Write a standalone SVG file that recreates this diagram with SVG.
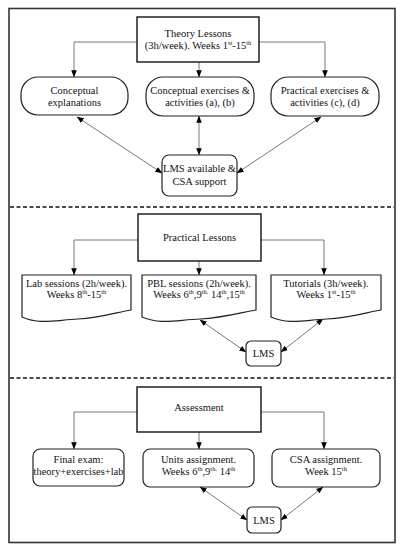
<svg xmlns="http://www.w3.org/2000/svg" width="402" height="550" viewBox="0 0 402 550">
<defs>
<marker id="ah" viewBox="0 0 10 10" refX="9.5" refY="5" markerWidth="7" markerHeight="7" markerUnits="userSpaceOnUse" orient="auto-start-reverse">
<path d="M0,1 L10,5 L0,9 Z" fill="#000"/>
</marker>
<style>
text{font-family:'Liberation Serif','Times New Roman','DejaVu Serif',serif;font-size:10.5px;fill:#111;text-anchor:middle}
.sup{font-size:6.5px}
.box{fill:#fff;stroke:#111;stroke-width:1.4}
.node{fill:#fff;stroke:#222;stroke-width:1.2}
.conn{fill:none;stroke:#555;stroke-width:0.8;marker-end:url(#ah)}
.bi{marker-start:url(#ah)}
.dash{stroke:#111;stroke-width:1.3;stroke-dasharray:4,2.5}
</style>
</defs>
<rect x="0" y="0" width="402" height="550" fill="#fff"/>
<rect x="9" y="8.5" width="386" height="534" fill="none" stroke="#333" stroke-width="1.6"/>
<line class="dash" x1="10" y1="207" x2="394" y2="207"/>
<line class="dash" x1="10" y1="378" x2="394" y2="378"/>

<g id="connectors">
<path class="conn" d="M137,42 H74 V77"/>
<path class="conn" d="M199,62 V77"/>
<path class="conn" d="M259,42 H325 V77"/>
<path class="conn bi" d="M77,117 L162,173"/>
<path class="conn bi" d="M199,116 V155"/>
<path class="conn bi" d="M321,117 L237,173"/>
<path class="conn" d="M138,240 H74 V275"/>
<path class="conn" d="M199,261 V275"/>
<path class="conn" d="M261,240 H324 V275"/>
<path class="conn bi" d="M200,320 L246,352"/>
<path class="conn bi" d="M323,319 L281,352"/>
<path class="conn" d="M137,412 H74 V449"/>
<path class="conn" d="M199,432 V449"/>
<path class="conn" d="M261,412 H324 V449"/>
<path class="conn bi" d="M200,487 L247,520"/>
<path class="conn bi" d="M323,487 L281,520"/>
</g>

<g font-family="'Liberation Serif', 'Times New Roman', serif">
<g id="theory">
<rect class="box" x="137" y="17" width="122" height="45"/>
<text x="198" y="37">Theory Lessons</text>
<text x="198" y="49">(3h/week). Weeks 1<tspan class="sup" dy="-4">st</tspan><tspan dy="4">-15</tspan><tspan class="sup" dy="-4">th</tspan></text>
</g>
<g id="conceptual-explanations">
<rect class="node" x="21" y="77" width="107" height="38" rx="17"/>
<text x="74.5" y="94">Conceptual</text>
<text x="74.5" y="106">explanations</text>
</g>
<g id="conceptual-exercises">
<rect class="node" x="146" y="77" width="108" height="39" rx="17"/>
<text x="200" y="94">Conceptual exercises &amp;</text>
<text x="200" y="106">activities (a), (b)</text>
</g>
<g id="practical-exercises">
<rect class="node" x="271" y="77" width="108" height="39" rx="17"/>
<text x="325" y="94">Practical exercises &amp;</text>
<text x="325" y="106">activities (c), (d)</text>
</g>
<g id="lms-csa">
<rect class="node" x="162" y="155" width="75" height="41" rx="7"/>
<text x="199.5" y="172">LMS available &amp;</text>
<text x="199.5" y="185">CSA support</text>
</g>

<g id="practical">
<rect class="box" x="138" y="214" width="123" height="47"/>
<text x="199.5" y="241">Practical Lessons</text>
</g>
<g id="lab">
<path class="node" d="M22,275 H131 V310 C118,312 100,318 78,319 S40,325 22,317 Z"/>
<text x="76.5" y="287">Lab sessions (2h/week).</text>
<text x="76.5" y="298">Weeks 8<tspan class="sup" dy="-4">th</tspan><tspan dy="4">-15</tspan><tspan class="sup" dy="-4">th</tspan></text>
</g>
<g id="pbl">
<path class="node" d="M142,275 H256 V310 C243,312 224,318 200,319 S161,325 142,317 Z"/>
<text x="199" y="287">PBL sessions (2h/week).</text>
<text x="199" y="298">Weeks 6<tspan class="sup" dy="-4">th</tspan><tspan dy="4">,9</tspan><tspan class="sup" dy="-4">th.</tspan><tspan dy="4"> 14</tspan><tspan class="sup" dy="-4">th</tspan><tspan dy="4">,15</tspan><tspan class="sup" dy="-4">th</tspan></text>
</g>
<g id="tutorials">
<path class="node" d="M271,275 H381 V310 C368,312 350,318 327,319 S289,325 271,317 Z"/>
<text x="326" y="287">Tutorials (3h/week).</text>
<text x="326" y="298">Weeks 1<tspan class="sup" dy="-4">st</tspan><tspan dy="4">-15</tspan><tspan class="sup" dy="-4">th</tspan></text>
</g>
<g id="lms-practical">
<rect class="node" x="246" y="341" width="35" height="25" rx="5"/>
<text x="263.5" y="357">LMS</text>
</g>

<g id="assessment">
<rect class="box" x="137" y="387" width="124" height="45"/>
<text x="199" y="411">Assessment</text>
</g>
<g id="final-exam">
<rect class="node" x="33" y="449" width="91" height="37" rx="7"/>
<text x="78.5" y="463">Final exam:</text>
<text x="78.5" y="475">theory+exercises+lab</text>
</g>
<g id="units">
<rect class="node" x="143" y="449" width="111" height="38" rx="7"/>
<text x="198.5" y="463">Units assignment.</text>
<text x="198.5" y="475">Weeks 6<tspan class="sup" dy="-4">th</tspan><tspan dy="4">,9</tspan><tspan class="sup" dy="-4">th.</tspan><tspan dy="4"> 14</tspan><tspan class="sup" dy="-4">th</tspan></text>
</g>
<g id="csa">
<rect class="node" x="272" y="449" width="108" height="38" rx="7"/>
<text x="326" y="463">CSA assignment.</text>
<text x="326" y="475">Week 15<tspan class="sup" dy="-4">th</tspan></text>
</g>
<g id="lms-assessment">
<rect class="node" x="247" y="507" width="34" height="26" rx="5"/>
<text x="264" y="524">LMS</text>
</g>
</g>
</svg>
